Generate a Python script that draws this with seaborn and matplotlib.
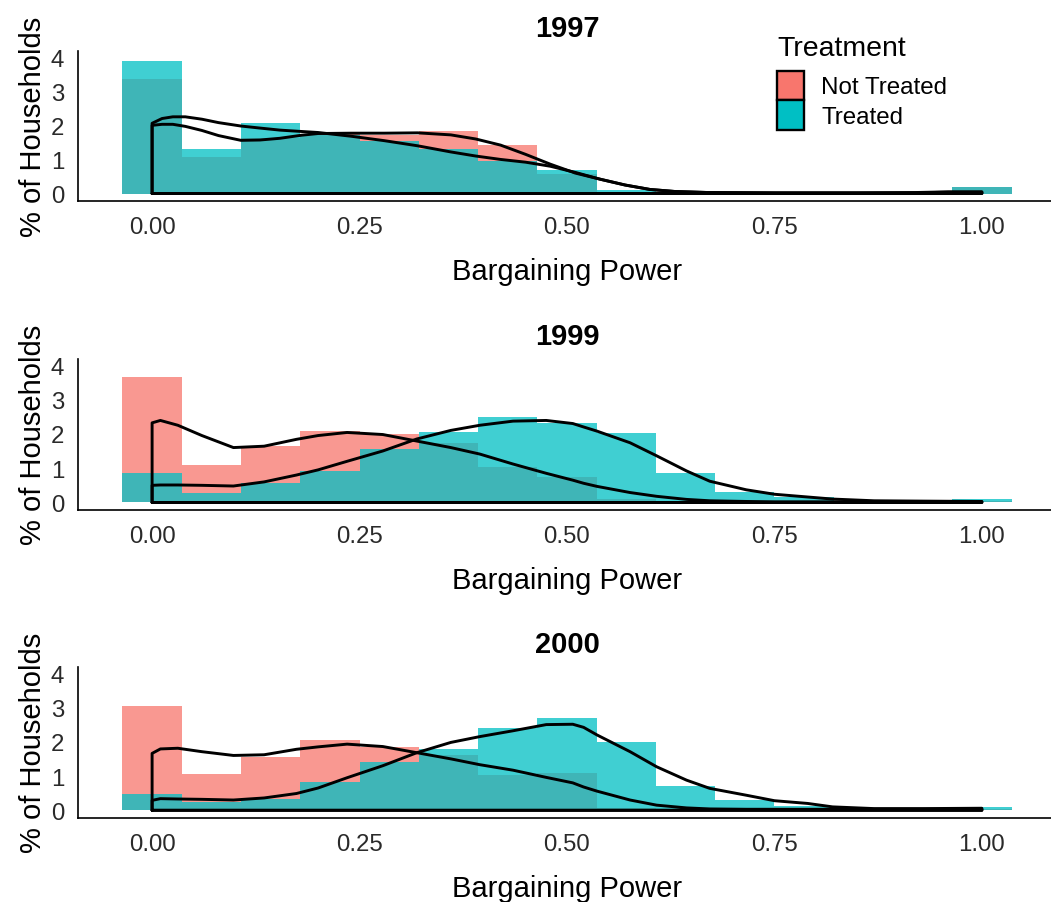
import matplotlib
matplotlib.use("Agg")
import matplotlib.pyplot as plt
from matplotlib.patches import Patch
import seaborn as sns

# ---------------- data ----------------
years = ["1997", "1999", "2000"]
groups = ["Not Treated", "Treated"]

bin_centers = [0.0, 0.0714, 0.1429, 0.2143, 0.2857, 0.3571, 0.4286, 0.5,
               0.5714, 0.6429, 0.7143, 0.7857, 0.8571, 0.9286, 1.0]

nt_1997 = [3.37, 1.07, 1.63, 1.76, 1.72, 1.84, 1.43, 0.57, 0.03, 0.0, 0.0, 0.0, 0.0, 0.02, 0.18]
t_1997 = [3.90, 1.32, 2.07, 1.72, 1.55, 1.30, 0.96, 0.70, 0.10, 0.01, 0.01, 0.0, 0.0, 0.02, 0.20]
nt_1999 = [3.67, 1.09, 1.65, 2.08, 2.00, 1.74, 1.02, 0.73, 0.10, 0.0, 0.0, 0.0, 0.0, 0.01, 0.03]
t_1999 = [0.86, 0.28, 0.57, 0.91, 1.55, 2.05, 2.49, 2.32, 2.01, 0.85, 0.32, 0.15, 0.03, 0.02, 0.10]
nt_2000 = [3.05, 1.06, 1.56, 2.05, 1.84, 1.61, 1.02, 1.10, 0.08, 0.0, 0.0, 0.0, 0.0, 0.0, 0.05]
t_2000 = [0.47, 0.24, 0.34, 0.83, 1.42, 1.79, 2.41, 2.69, 2.00, 0.70, 0.29, 0.12, 0.03, 0.08, 0.10]

# density curves (read at sample points)
dx_1997 = [0, 0.012, 0.025, 0.04, 0.06, 0.08, 0.107, 0.13, 0.154, 0.18, 0.2, 0.24, 0.28,
           0.32, 0.36, 0.39, 0.42, 0.45, 0.48, 0.51, 0.54, 0.57, 0.6, 0.63, 0.67, 0.75,
           0.85, 0.92, 0.96, 1.0]
dnt_1997 = [2.0, 2.03, 2.03, 1.97, 1.85, 1.70, 1.56, 1.57, 1.62, 1.71, 1.76, 1.77, 1.77,
            1.78, 1.72, 1.60, 1.42, 1.15, 0.86, 0.60, 0.42, 0.25, 0.12, 0.06, 0.03, 0.02,
            0.02, 0.02, 0.04, 0.04]
dt_1997 = [2.06, 2.20, 2.25, 2.25, 2.18, 2.08, 1.98, 1.92, 1.86, 1.82, 1.79, 1.68, 1.55,
           1.40, 1.22, 1.10, 1.00, 0.92, 0.80, 0.62, 0.42, 0.25, 0.12, 0.06, 0.03, 0.02,
           0.02, 0.03, 0.05, 0.05]

dx_1999 = [0, 0.01, 0.031, 0.06, 0.098, 0.135, 0.174, 0.2, 0.235, 0.278, 0.319, 0.36,
           0.395, 0.435, 0.475, 0.507, 0.52, 0.536, 0.576, 0.608, 0.644, 0.672, 0.716,
           0.75, 0.79, 0.82, 0.87, 0.93, 1.0]
dnt_1999 = [2.32, 2.39, 2.25, 1.95, 1.60, 1.64, 1.84, 1.95, 2.04, 1.98, 1.79, 1.60,
            1.41, 1.12, 0.85, 0.65, 0.56, 0.47, 0.29, 0.18, 0.09, 0.05, 0.03,
            0.02, 0.02, 0.02, 0.02, 0.02, 0.02]
dt_1999 = [0.50, 0.51, 0.51, 0.50, 0.48, 0.60, 0.80, 0.95, 1.20, 1.50, 1.85, 2.10,
           2.25, 2.37, 2.39, 2.30, 2.20, 2.08, 1.74, 1.36, 0.92, 0.62, 0.37,
           0.24, 0.16, 0.10, 0.05, 0.04, 0.03]

dx_2000 = dx_1999
dnt_2000 = [1.66, 1.79, 1.81, 1.71, 1.60, 1.62, 1.78, 1.85, 1.93, 1.86, 1.68, 1.50,
            1.33, 1.17, 0.96, 0.80, 0.68, 0.56, 0.30, 0.15, 0.07, 0.04, 0.03,
            0.03, 0.03, 0.03, 0.03, 0.03, 0.03]
dt_2000 = [0.29, 0.34, 0.33, 0.32, 0.30, 0.36, 0.49, 0.65, 0.95, 1.30, 1.68, 1.98,
           2.15, 2.32, 2.50, 2.51, 2.42, 2.20, 1.71, 1.27, 0.88, 0.64, 0.44,
           0.28, 0.20, 0.10, 0.05, 0.05, 0.06]

x_ticks = [0.0, 0.25, 0.5, 0.75, 1.0]
x_tick_labels = ["0.00", "0.25", "0.50", "0.75", "1.00"]
y_ticks = [0, 1, 2, 3, 4]

hist_data = {"1997": (nt_1997, t_1997), "1999": (nt_1999, t_1999), "2000": (nt_2000, t_2000)}
dens_data = {"1997": (dx_1997, dnt_1997, dt_1997),
             "1999": (dx_1999, dnt_1999, dt_1999),
             "2000": (dx_2000, dnt_2000, dt_2000)}

# ---------------- style ----------------
sns.set_style("white")
plt.rcParams["font.family"] = ["Liberation Sans", "DejaVu Sans"]
plt.rcParams["text.color"] = "black"
plt.rcParams["axes.labelcolor"] = "black"

col_nt = "#F8766D"
col_t = "#00BFC4"

W, H = 1051, 903
fig = plt.figure(figsize=(W / 100, H / 100), dpi=100)

left_px, right_px = 78, 1056
panels_px = [(52, 201.7), (360, 510.7), (668, 818.5)]

for yr, (top, bot) in zip(years, panels_px):
    ax = fig.add_axes([left_px / W, 1 - bot / H, (right_px - left_px) / W, (bot - top) / H])
    nt, t = hist_data[yr]
    for vals, c in ((nt, col_nt), (t, col_t)):
        sns.histplot(x=bin_centers, weights=vals, binwidth=1 / 14,
                     binrange=(-1 / 28, 1 + 1 / 28), stat="count",
                     color=c, alpha=0.75, linewidth=0, edgecolor="none",
                     element="bars", ax=ax)
    dx, dnt, dt = dens_data[yr]
    for dy in (dnt, dt):
        cx = [dx[0]] + list(dx) + [dx[-1], dx[0]]
        cy = [0] + list(dy) + [0, 0]
        sns.lineplot(x=cx, y=cy, sort=False, estimator=None, color="black",
                     linewidth=2.1, ax=ax)
    ax.set_xlim(-0.0893, 1.0893)
    ax.set_ylim(-0.21, 4.18)
    ax.set_xticks(x_ticks)
    ax.set_xticklabels(x_tick_labels)
    ax.set_yticks(y_ticks)
    ax.tick_params(axis="both", length=0, labelsize=17.3, colors="#2a2a2a")
    ax.tick_params(axis="x", pad=11)
    ax.tick_params(axis="y", pad=10)
    for s in ("top", "right"):
        ax.spines[s].set_visible(False)
    for s in ("left", "bottom"):
        ax.spines[s].set_color("black")
        ax.spines[s].set_linewidth(1.2)
    ax.set_xlabel("Bargaining Power", fontsize=21, color="black")
    ax.set_ylabel("% of Households", fontsize=21, color="black")
    ax.xaxis.set_label_coords(0.5, -0.375)
    ax.yaxis.set_label_coords(-0.032, 0.5)
    ax.set_title(yr, fontsize=21, fontweight="bold", pad=11, color="black")

handles = [Patch(facecolor=col_nt, edgecolor="black", linewidth=1.7),
           Patch(facecolor=col_t, edgecolor="black", linewidth=1.7)]
leg = fig.legend(handles=handles, labels=groups, title="Treatment",
                 loc="upper left", bbox_to_anchor=(777 / W, 1 - 36 / H),
                 frameon=False, fontsize=17.4, title_fontsize=20.5,
                 handlelength=1.12, handleheight=1.5, labelspacing=0,
                 handletextpad=0.72, borderpad=0, borderaxespad=0, alignment="left")
leg._legend_box.sep = 7
for txt in leg.get_texts():
    txt.set_color("black")
leg.get_title().set_color("black")

fig.savefig("out.png", dpi=100)
